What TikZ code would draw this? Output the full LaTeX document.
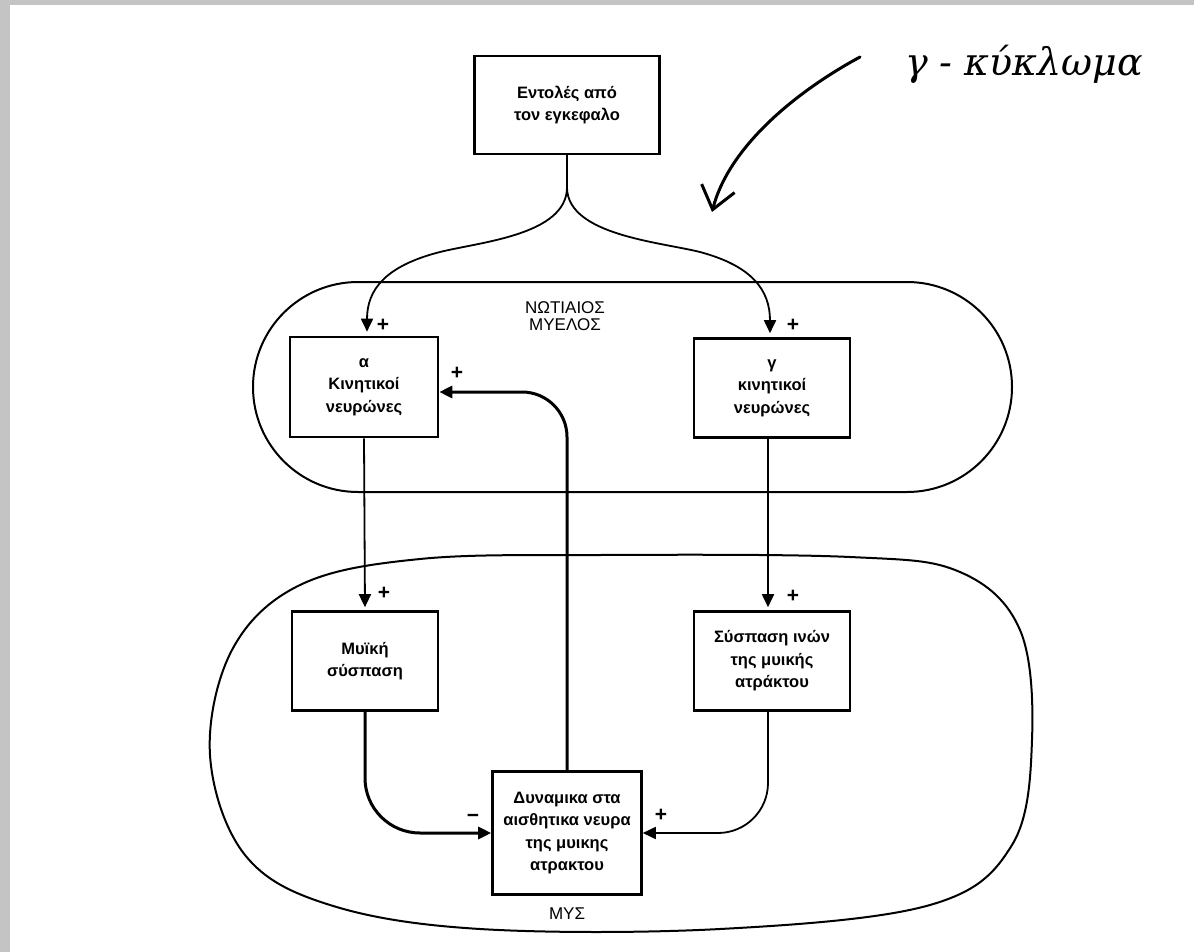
\documentclass[tikz,border=0pt]{standalone}
\usepackage{fontspec}
\setmainfont{Liberation Sans}
\newfontfamily\handfont{DejaVu Serif}
\usetikzlibrary{arrows.meta,calc}
\tikzset{
  box/.style={draw, line width=2.6pt, inner sep=0pt, align=center, font=\bfseries\fontsize{16.5}{22.5}\selectfont},
  thinln/.style={line width=1.8pt},
  thickln/.style={line width=3pt},
  tip/.style={-{Triangle[length=13pt,width=12pt]}},
  lbl/.style={font=\fontsize{17}{17}\selectfont, align=center},
  sgn/.style={font=\bfseries\fontsize{21}{21}\selectfont, inner sep=0pt},
}
\begin{document}
\begin{tikzpicture}[x=1pt,y=-1pt]
\useasboundingbox (0,0) rectangle (1194,952);
\fill[white] (0,0) rectangle (1194,952);
\fill[black!23] (0,0) rectangle (1194,5);
\fill[black!23] (0,0) rectangle (10,952);

% outlines
\draw[line width=2pt, rounded corners=105pt] (253,282) rectangle (1012,492);
\draw[line width=2pt] plot[smooth cycle, tension=0.6] coordinates {
 (210,755) (232,650) (300,585) (420,559) (600,555) (850,557) (960,572) (1020,630)
 (1032,740) (1012,845) (930,905) (720,929) (480,929) (330,905) (245,855)};

\node[lbl] (nm) at (565,316) {ΝΩΤΙΑΙΟΣ\\ΜΥΕΛΟΣ};
\node[lbl] (mys) at (567,914) {ΜΥΣ};

% boxes
\node[box, minimum width=185pt, minimum height=98pt] (top) at (567,105) {Εντολές από\\τον εγκεφαλο};
\node[box, minimum width=148pt, minimum height=100pt] (alpha) at (364,387) {α\\Κινητικοί\\νευρώνες};
\node[box, minimum width=156pt, minimum height=99pt] (gamma) at (772,388) {γ\\κινητικοί\\νευρώνες};
\node[box, minimum width=146pt, minimum height=99pt] (musc) at (365,661) {Μυϊκή\\σύσπαση};
\node[box, minimum width=156pt, minimum height=99pt] (spin) at (772,661) {Σύσπαση ινών\\της μυικής\\ατράκτου};
\node[box, minimum width=149pt, minimum height=123pt] (dyn) at (567,833) {Δυναμικα στα\\αισθητικα νευρα\\της μυικης\\ατρακτου};

% fork from the brain
\coordinate (fork) at (567,188);
\draw[thinln] (top.south) -- (fork);
\draw[thinln, tip, shorten >=4pt] (fork) .. controls (566,235) and (480,242) .. (440,252)
  .. controls (385,266) and (367,290) .. ([xshift=3pt]alpha.north);
\draw[thinln, tip, shorten >=4pt] (fork) .. controls (568,235) and (660,242) .. (700,252)
  .. controls (752,266) and (770,290) .. ([xshift=-2pt]gamma.north);

% alpha -> muscle, gamma -> spindle
\draw[thinln, tip, shorten >=3pt] (alpha.south) -- (musc.north);
\draw[thinln, tip, shorten >=3pt] ([xshift=-4pt]gamma.south) -- ([xshift=-4pt]spin.north);

% feedback
\draw[thickln, tip, rounded corners=45pt] (dyn.north) |- ([yshift=-5pt]alpha.east);
\draw[thickln, tip, rounded corners=55pt] (musc.south) |- (dyn.west);
\draw[thinln, tip, rounded corners=50pt] ([xshift=-4pt]spin.south) |- (dyn.east);

% signs
\node[sgn] (p1) at (383,325) {+};
\node[sgn] (p2) at (793,325) {+};
\node[sgn] (p3) at (457,373) {+};
\node[sgn] (p4) at (384,593) {+};
\node[sgn] (p5) at (793,596) {+};
\node[sgn] (m1) at (473,818) {\textminus};
\node[sgn] (p6) at (661,815) {+};

% handwritten note
\node[font=\handfont\itshape\fontsize{38}{38}\selectfont, anchor=west, inner sep=0pt] (note) at (905,64) {γ - κύκλωμα};
\coordinate (hs) at (860,57);
\coordinate (he) at (712,212);
\draw[line width=3pt, line cap=round, -{Straight Barb[length=22pt,width=34pt,line width=3pt]}] (hs) .. controls (790,95) and (728,150) .. (he);
\end{tikzpicture}
\end{document}
